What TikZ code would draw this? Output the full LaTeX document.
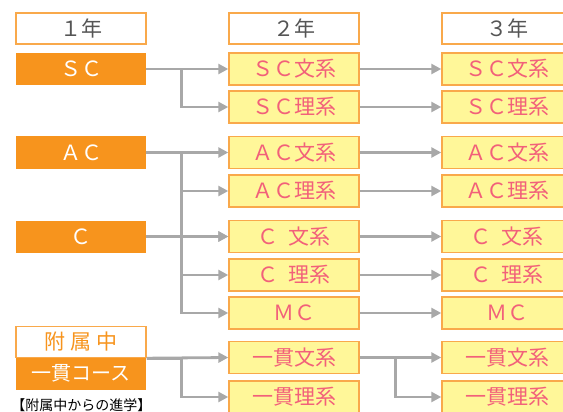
\documentclass[tikz,border=0pt]{standalone}
\usepackage{fontspec}
\setmainfont{Noto Sans CJK JP}
\usetikzlibrary{arrows.meta}

\def \firstYearStr {１年}
\def \secondYearStr {２年}
\def \thirdYearStr {３年}
\def \scStr {ＳＣ}
\def \acStr {ＡＣ}
\def \cStr {Ｃ}
\def \fuzokuStr {附\hspace{5pt}属\hspace{5pt}中}
\def \ikkanCourseStr {一貫コース}
\def \scBunStr {ＳＣ文系}
\def \scRiStr {ＳＣ理系}
\def \acBunStr {ＡＣ文系}
\def \acRiStr {ＡＣ理系}
\def \cBunStr {Ｃ\hspace{11pt}文系}
\def \cRiStr {Ｃ\hspace{11pt}理系}
\def \mcStr {ＭＣ}
\def \ikkanBunStr {一貫文系}
\def \ikkanRiStr {一貫理系}
\def \captionStr {【附属中からの進学】}
\def \boxWidth {130pt}
\def \boxHeight {32pt}

\begin{document}
\begin{tikzpicture}[x=1pt,y=-1pt]


\definecolor{kOrange}{HTML}{F7941D}
\definecolor{kLightOrange}{HTML}{F9A94B}
\definecolor{kYellow}{HTML}{FFF799}
\definecolor{kPink}{HTML}{F2607A}
\definecolor{kGrey}{HTML}{555555}
\definecolor{kLine}{HTML}{A8A8A8}


\clip (0,0) rectangle (563,412);


\begin{scope}[
  mytext/.style={inner sep=0pt, minimum width=\boxWidth, minimum height=\boxHeight,
    font=\fontsize{21}{21}\selectfont},
  yearbox/.style={mytext, draw=kLightOrange, line width=1.4pt, fill=white, text=kGrey,
    minimum height=31pt},
  firstbox/.style={mytext, fill=kOrange, text=white},
  coursebox/.style={mytext, draw=kLightOrange, line width=1.4pt, fill=kYellow, text=kPink},
  conn/.style={draw=kLine, line width=2.8pt, -{Triangle[length=10pt,width=10pt]}}]


% year headers
\node[yearbox] (yr1) at (81,28.5) {\firstYearStr};
\node[yearbox] (yr2) at (294,28.5) {\secondYearStr};
\node[yearbox] (yr3) at (507,28.5) {\thirdYearStr};

% first year
\node[firstbox] (sc1) at (81,69) {\scStr};
\node[firstbox] (ac1) at (81,152.5) {\acStr};
\node[firstbox] (c1) at (81,236.5) {\cStr};
\node[yearbox, text=kOrange] (fuzoku1) at (81,342) {\fuzokuStr};
\node[firstbox, font=\fontsize{20}{20}\selectfont] (ikkan1) at (81,373.5) {\ikkanCourseStr};

% second year
\node[coursebox] (scbun2) at (294,69) {\scBunStr};
\node[coursebox] (scri2) at (294,107) {\scRiStr};
\node[coursebox] (acbun2) at (294,152.5) {\acBunStr};
\node[coursebox] (acri2) at (294,191) {\acRiStr};
\node[coursebox] (cbun2) at (294,236.5) {\cBunStr};
\node[coursebox] (cri2) at (294,275) {\cRiStr};
\node[coursebox] (mc2) at (294,313) {\mcStr};
\node[coursebox] (ikbun2) at (294,357.5) {\ikkanBunStr};
\node[coursebox] (ikri2) at (294,397) {\ikkanRiStr};

% third year
\node[coursebox] (scbun3) at (507,69) {\scBunStr};
\node[coursebox] (scri3) at (507,107) {\scRiStr};
\node[coursebox] (acbun3) at (507,152.5) {\acBunStr};
\node[coursebox] (acri3) at (507,191) {\acRiStr};
\node[coursebox] (cbun3) at (507,236.5) {\cBunStr};
\node[coursebox] (cri3) at (507,275) {\cRiStr};
\node[coursebox] (mc3) at (507,313) {\mcStr};
\node[coursebox] (ikbun3) at (507,357.5) {\ikkanBunStr};
\node[coursebox] (ikri3) at (507,397) {\ikkanRiStr};

\node[text=black, inner sep=0pt, font=\fontsize{14}{14}\selectfont] (note) at (81.5,405.5) {\captionStr};


% first to second year
\draw[conn] (sc1.east) -- (scbun2.west);
\draw[conn] (sc1.east) -- ++(35,0) |- (scri2.west);

\draw[conn] (ac1.east) -- (acbun2.west);
\draw[conn] (ac1.east) -- ++(35,0) |- (acri2.west);
\draw[conn] (ac1.east) -- ++(35,0) |- (cbun2.west);
\draw[conn] (ac1.east) -- ++(35,0) |- (cri2.west);
\draw[conn] (ac1.east) -- ++(35,0) |- (mc2.west);
\draw[conn] (c1.east) -- (cbun2.west);

\draw[conn] (fuzoku1.south east) -- (ikbun2.west);
\draw[conn] (fuzoku1.south east) -- ++(35,0) |- (ikri2.west);

% second to third year
\draw[conn] (scbun2.east) -- (scbun3.west);
\draw[conn] (scri2.east) -- (scri3.west);
\draw[conn] (acbun2.east) -- (acbun3.west);
\draw[conn] (acri2.east) -- (acri3.west);
\draw[conn] (cbun2.east) -- (cbun3.west);
\draw[conn] (cri2.east) -- (cri3.west);
\draw[conn] (mc2.east) -- (mc3.west);
\draw[conn] (ikbun2.east) -- (ikbun3.west);
\draw[conn] (ikbun2.east) -- ++(36,0) |- (ikri3.west);


\end{scope}
\end{tikzpicture}
\end{document}
